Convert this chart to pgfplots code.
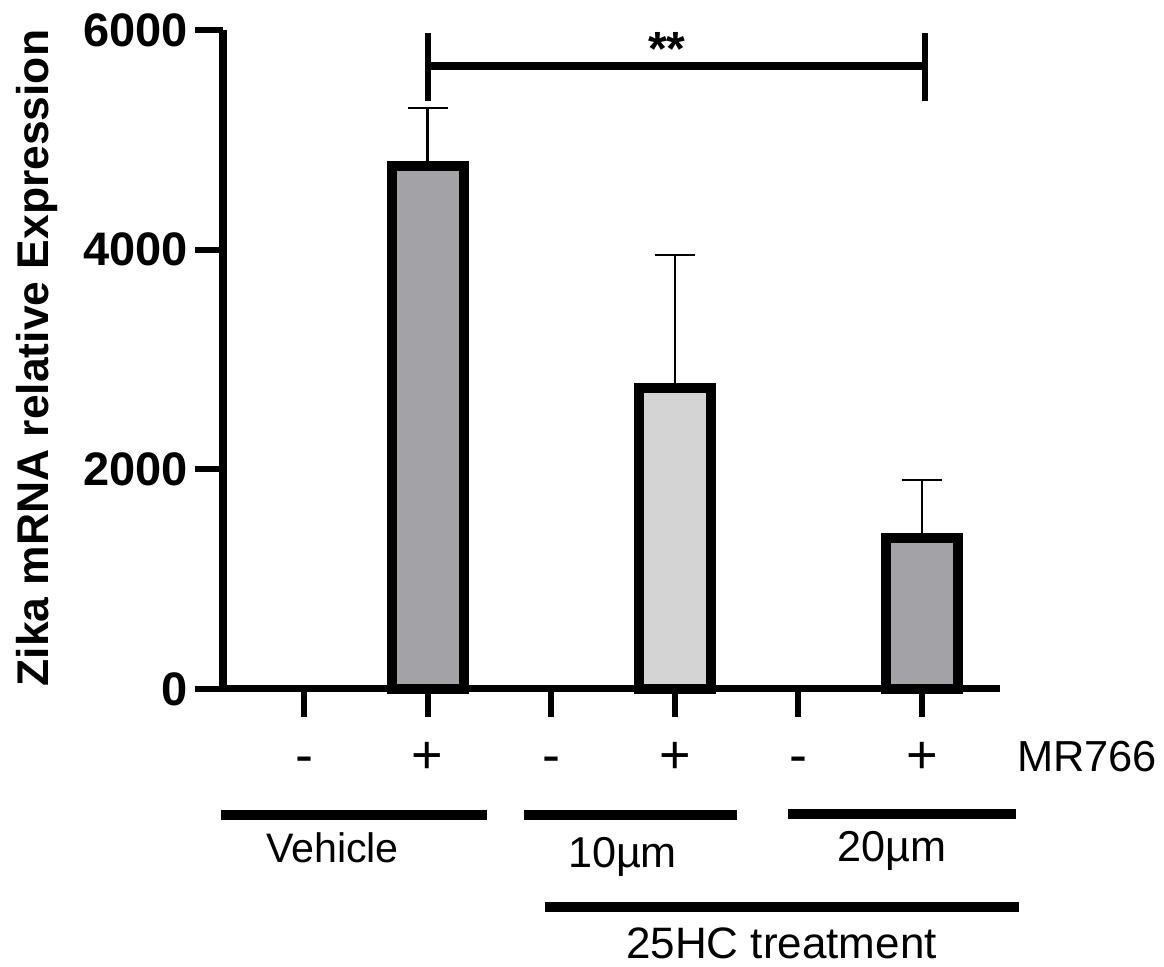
\documentclass[border=0pt]{standalone}
\usepackage{fontspec}
\setmainfont{Liberation Sans}
\usepackage{pgfplots}
\pgfplotsset{compat=1.18}
\definecolor{barA}{RGB}{163,162,167}
\definecolor{barB}{RGB}{212,212,212}
\newcommand\fs[1]{\fontsize{#1pt}{#1pt}\selectfont}
\begin{document}
\begin{tikzpicture}
\useasboundingbox (0pt,0pt) rectangle (582pt,483.5pt);
\begin{axis}[
  at={(152pt,139pt)}, anchor=origin,
  scale only axis, width=388.5pt, height=329.5pt,
  xmin=-0.6553, xmax=5.631, ymin=0, ymax=6000,
  axis x line=bottom, axis y line=left,
  x axis line style={-, line width=3.5pt},
  y axis line style={-, line width=4pt},
  tick align=outside, major tick length=14pt,
  xtick={0,1,2,3,4,5}, xticklabels={},
  ytick={0,2000,4000,6000},
  x tick style={line width=3pt, black},
  y tick style={line width=3pt, black},
  yticklabel style={font=\bfseries\fs{23.5}},
  /pgf/number format/assume math mode=true,
  /pgf/number format/1000 sep={},
  clip=false,
]
\addplot[ybar, bar shift=0pt, bar width=0.583, fill=barA, draw=black, line width=5pt,
  error bars/.cd, y dir=plus, y explicit,
  error bar style={line width=1.25pt, black},
  error mark options={line width=1.25pt, mark size=10pt, rotate=90}]
  coordinates {(1,4760) +- (0,530) (5,1375) +- (0,528)};
\addplot[ybar, bar shift=0pt, bar width=0.583, fill=barB, draw=black, line width=5pt,
  error bars/.cd, y dir=plus, y explicit,
  error bar style={line width=1.25pt, black},
  error mark options={line width=1.25pt, mark size=10pt, rotate=90}]
  coordinates {(3,2741) +- (0,1211)};
\end{axis}
\begin{scope}[x=0.5pt,y=0.5pt]
% significance bracket
\draw[line width=4pt] (428,901) -- (925,901);
\draw[line width=3pt] (428,934) -- (428,866);
\draw[line width=3pt] (925,934) -- (925,866);
\node[anchor=base, inner sep=0pt, font=\bfseries\fs{24}] at (667,901) {**};
% y label
\node[rotate=90, anchor=base, inner sep=0pt, font=\bfseries\fs{22.2}] at (48,609) {Zika mRNA relative Expression};
% MR766 row
\foreach \x/\s in {304/-,427.6/+,551.2/-,674.8/+,798.4/-,922/+}{
  \node[anchor=base, inner sep=0pt, font=\fs{27}] at (\x,193) {\s};
}
\node[anchor=base, inner sep=0pt, font=\fs{21.7}] at (1087,195) {MR766};
% group lines
\draw[line width=4.6pt] (221,152) -- (487,152);
\draw[line width=4.6pt] (524,152) -- (737,152);
\draw[line width=4.6pt] (788,153) -- (1016,153);
\node[anchor=base, inner sep=0pt, font=\fs{20.6}] at (332.5,104) {Vehicle};
\node[anchor=base, inner sep=0pt, font=\fs{21.6}] at (622.5,99) {10µm};
\node[anchor=base, inner sep=0pt, font=\fs{21.6}] at (892,105) {20µm};
\draw[line width=4.6pt] (545,60) -- (1019,60);
\node[anchor=base, inner sep=0pt, font=\fs{22}] at (781.5,8) {25HC treatment};
\end{scope}
\end{tikzpicture}
\end{document}
